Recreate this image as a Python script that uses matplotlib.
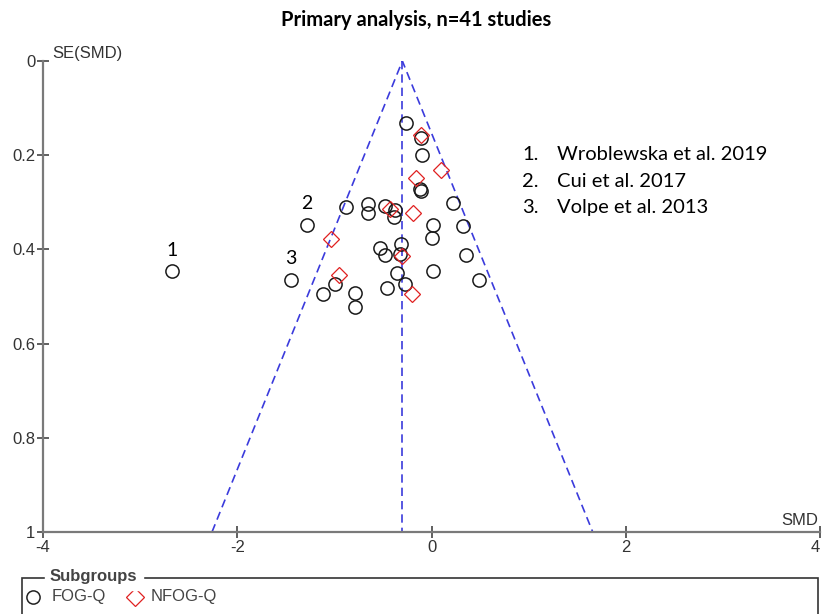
import matplotlib
matplotlib.use('Agg')
import matplotlib.pyplot as plt
from matplotlib.lines import Line2D
from matplotlib.patches import Rectangle
from matplotlib import font_manager

# SMD / SE values
fogq_smd = [-0.26, -0.11, -0.10, -0.12, -0.11, 0.22, -0.88, -0.65, -0.65, -0.48,
            -0.38, -0.39, -1.28, 0.02, 0.32, 0.00, -0.53, -0.31, -0.48, -0.32,
            0.36, -2.67, -1.45, -0.36, 0.02, 0.49, -0.99, -1.12, -0.79, -0.79,
            -0.46, -0.27]
fogq_se = [0.132, 0.163, 0.200, 0.272, 0.277, 0.302, 0.309, 0.303, 0.323, 0.308,
           0.316, 0.332, 0.348, 0.348, 0.350, 0.376, 0.396, 0.388, 0.412, 0.410,
           0.412, 0.446, 0.466, 0.451, 0.446, 0.466, 0.473, 0.495, 0.492, 0.522,
           0.481, 0.474]
nfogq_smd = [-0.11, 0.10, -0.16, -0.43, -0.19, -1.03, -0.30, -0.95, -0.20]
nfogq_se = [0.157, 0.231, 0.249, 0.314, 0.323, 0.377, 0.414, 0.455, 0.494]

pooled = -0.30
se_max = 1.0

labels_num = ['1', '2', '3']
labels_xy = [(-2.67, 0.402), (-1.28, 0.302), (-1.45, 0.42)]
studies = ['Wroblewska et al. 2019', 'Cui et al. 2017', 'Volpe et al. 2013']

xticks = [-4, -2, 0, 2, 4]
yticks = [0, 0.2, 0.4, 0.6, 0.8, 1]
ytick_labels = ['0', '0.2', '0.4', '0.6', '0.8', '1']

names = {f.name for f in font_manager.fontManager.ttflist}
axfont = 'Liberation Sans Narrow' if 'Liberation Sans Narrow' in names else 'Liberation Sans'
txtfont = 'Lato'

W, H = 822, 614
fx = lambda p: p / W
fy = lambda p: 1 - p / H

fig = plt.figure(figsize=(W / 100, H / 100), dpi=100)
ax = fig.add_axes([fx(43), fy(532), (820 - 43) / W, (532 - 61) / H])

blue = '#3b3bdc'
ax.plot([pooled, pooled], [0, se_max], ls=(0, (5, 3)), color=blue, lw=1.2)
ax.plot([pooled - 1.96 * se_max, pooled, pooled + 1.96 * se_max], [se_max, 0, se_max],
        ls=(0, (5, 3)), color=blue, lw=1.2)

ax.plot(fogq_smd, fogq_se, 'o', mfc='none', mec='#1a1a1a', ms=9.5, mew=1.1, ls='none')
ax.plot(nfogq_smd, nfogq_se, 'D', mfc='none', mec='#e02020', ms=8.3, mew=0.9, ls='none')

for t, (x, y) in zip(labels_num, labels_xy):
    ax.text(x, y, t, fontsize=14, family=txtfont, ha='center', va='center')

ax.set_xlim(-4, 4)
ax.set_ylim(1, 0)
for s in ['top', 'right']:
    ax.spines[s].set_visible(False)
for s in ['left', 'bottom']:
    ax.spines[s].set_color('#7a7a7a')
    ax.spines[s].set_linewidth(1.6)
ax.set_xticks(xticks)
ax.set_xticklabels([str(v) for v in xticks])
ax.set_yticks(yticks)
ax.set_yticklabels(ytick_labels)
ax.tick_params(direction='inout', length=9, width=1.2, color='#444444',
               labelcolor='#333333', labelsize=12, pad=1)
for lab in ax.get_xticklabels() + ax.get_yticklabels():
    lab.set_family(axfont)
ax.get_xticklabels()[-1].set_ha('right')

ax.text(0.012, 1.0, 'SE(SMD)', transform=ax.transAxes, fontsize=12, family=axfont,
        color='#333333', ha='left', va='bottom')
ax.text(0.998, 0.008, 'SMD', transform=ax.transAxes, fontsize=12, family=axfont,
        color='#333333', ha='right', va='bottom')

fig.text(fx(416), fy(20), 'Primary analysis, n=41 studies', fontsize=14.5,
         family=txtfont, weight='bold', ha='center', va='center')

for i, name in enumerate(studies):
    y = 155 + i * 26.5
    fig.text(fx(522), fy(y), f'{i + 1}.', fontsize=14.5, family=txtfont, va='center')
    fig.text(fx(557), fy(y), name, fontsize=14.5, family=txtfont, va='center')

# subgroup legend box
fig.add_artist(Rectangle((fx(22), fy(640)), (818 - 22) / W, (640 - 578) / H,
                         transform=fig.transFigure, fill=False, ec='#333333', lw=1.2))
fig.text(fx(50), fy(577), 'Subgroups', fontsize=12, family=axfont, weight='bold',
         color='#444444', va='center', ha='left', backgroundcolor='white')
fig.add_artist(Line2D([fx(33)], [fy(597)], marker='o', mfc='none', mec='#222222',
                      ms=9.5, mew=1.1, transform=fig.transFigure))
fig.text(fx(52), fy(597), 'FOG-Q', fontsize=12, family=axfont, color='#444444', va='center')
fig.add_artist(Line2D([fx(135)], [fy(597)], marker='D', mfc='none', mec='#e02020',
                      ms=8.8, mew=0.9, transform=fig.transFigure))
fig.text(fx(151), fy(597), 'NFOG-Q', fontsize=12, family=axfont, color='#444444', va='center')

fig.savefig('out.png', dpi=100)
